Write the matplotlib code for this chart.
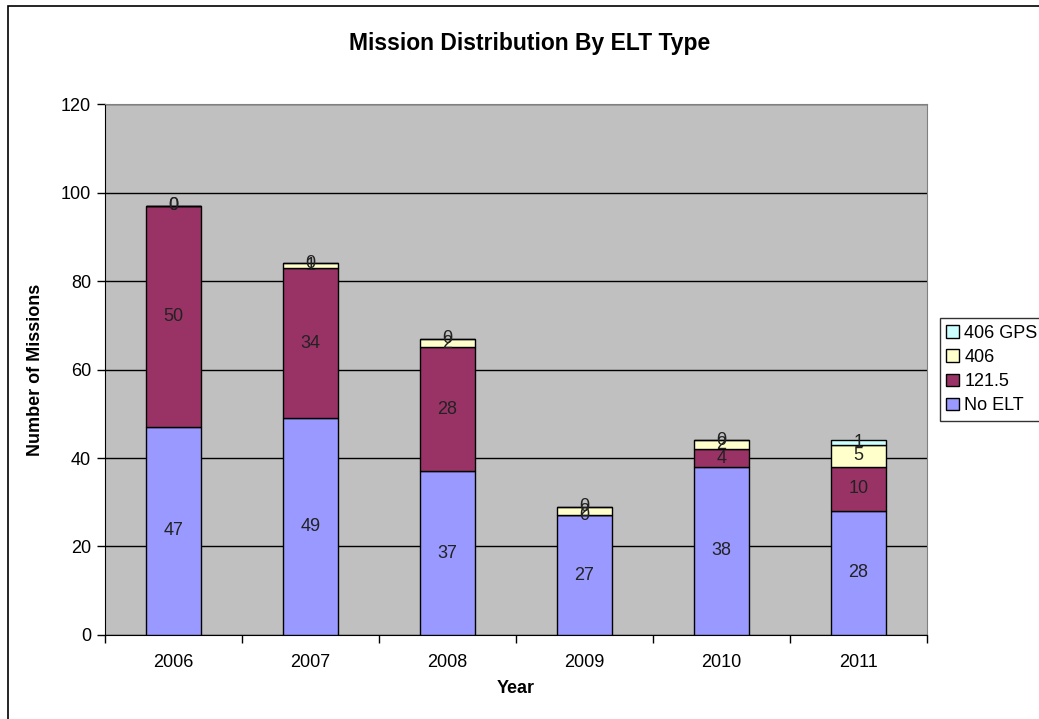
import matplotlib.pyplot as plt
import numpy as np

years = ["2006", "2007", "2008", "2009", "2010", "2011"]
no_elt = [47, 49, 37, 27, 38, 28]
elt_121 = [50, 34, 28, 0, 4, 10]
elt_406 = [0, 1, 2, 2, 2, 5]
elt_gps = [0, 0, 0, 0, 0, 1]

series = [("No ELT", no_elt, "#9999FF"),
          ("121.5", elt_121, "#993366"),
          ("406", elt_406, "#FFFFCC"),
          ("406 GPS", elt_gps, "#CCFFFF")]

plt.rcParams["font.family"] = ["Liberation Sans", "DejaVu Sans"]

fig = plt.figure(figsize=(10.39, 7.19), dpi=100)
ax = fig.add_axes([0.101, 0.117, 0.791, 0.738])
ax.set_facecolor("#C0C0C0")

x = np.arange(len(years))
bottom = np.zeros(len(years))
handles = []
for name, vals, col in series:
    vals = np.array(vals)
    b = ax.bar(x, vals, 0.4, bottom=bottom, color=col, edgecolor="black", linewidth=1, zorder=3, label=name)
    handles.append(b)
    for xi, v, bt in zip(x, vals, bottom):
        ax.text(xi, bt + v / 2, str(v), ha="center", va="center", fontsize=13, color="#222222", zorder=5)
    bottom = bottom + vals

ax.set_xlim(-0.5, len(years) - 0.5)
ax.set_ylim(0, 120)
ax.set_yticks(range(0, 121, 20))
ax.yaxis.grid(True, color="black", linewidth=1)
ax.set_axisbelow(True)
ax.set_xticks(x)
ax.set_xticklabels(years)
ax.set_xticks(np.arange(-0.5, len(years)), minor=True)
ax.tick_params(axis="x", which="major", length=0, labelsize=13, pad=14)
ax.tick_params(axis="x", which="minor", length=6, width=1, direction="out")
ax.tick_params(axis="y", length=6, width=1, labelsize=13, pad=4)
for s in ["top", "right"]:
    ax.spines[s].set_color("#808080")
ax.spines["left"].set_color("black")
ax.spines["bottom"].set_color("black")

ax.set_xlabel("Year", fontsize=13, fontweight="bold", labelpad=6)
ax.set_ylabel("Number of Missions", fontsize=13, fontweight="bold", labelpad=12)
fig.text(0.51, 0.94, "Mission Distribution By ELT Type", ha="center", va="center", fontsize=16.5, fontweight="bold")

leg = ax.legend(handles[::-1], [s[0] for s in series][::-1], loc="center left",
                bbox_to_anchor=(1.016, 0.5), fontsize=13, frameon=True, fancybox=False,
                edgecolor="black", handlelength=0.7, handleheight=0.7, handletextpad=0.3,
                borderpad=0.35, labelspacing=0.4, borderaxespad=0)
leg.get_frame().set_linewidth(1)

# outer chart border (left/top visible in reference)
fig.patches.append(plt.Rectangle((0.008, -0.1), 1.1, 1.092, transform=fig.transFigure,
                                 fill=False, edgecolor="black", linewidth=1.2))

fig.savefig("out.png", dpi=100)
